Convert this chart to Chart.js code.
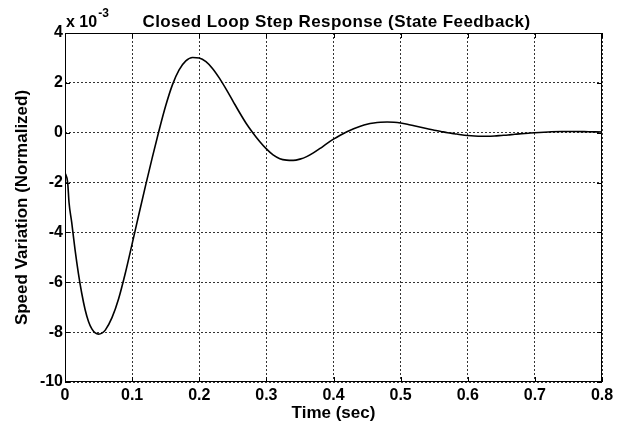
<!DOCTYPE html>
<html>
<head>
<meta charset="utf-8">
<title>Closed Loop Step Response</title>
<script src="https://cdn.jsdelivr.net/npm/chart.js@4.4.0/dist/chart.umd.min.js"></script>
<style>
  html, body { margin: 0; padding: 0; background: #fff; }
  #wrap { width: 624px; height: 428px; }
</style>
</head>
<body>
<div id="wrap"><canvas id="stepChart" width="624" height="428"></canvas></div>
<script>
// values (speed variation in units of 1e-3)
const timeSec = [0, 0.004, 0.006, 0.01, 0.015, 0.02, 0.025, 0.03, 0.035, 0.04, 0.045, 0.05, 0.055, 0.06,
  0.07, 0.08, 0.09, 0.10, 0.11, 0.12, 0.13, 0.14, 0.15, 0.16, 0.17, 0.18, 0.19, 0.20,
  0.21, 0.22, 0.23, 0.24, 0.25, 0.26, 0.27, 0.28, 0.29, 0.30, 0.31, 0.32, 0.33, 0.34,
  0.35, 0.36, 0.37, 0.38, 0.39, 0.40, 0.41, 0.42, 0.43, 0.44, 0.45, 0.46, 0.47, 0.48,
  0.49, 0.50, 0.51, 0.52, 0.53, 0.54, 0.55, 0.56, 0.57, 0.58, 0.59, 0.60, 0.61, 0.62,
  0.63, 0.64, 0.65, 0.66, 0.67, 0.68, 0.69, 0.70, 0.72, 0.74, 0.76, 0.78, 0.80];
const speedVar = [-1.6, -2.0, -2.8, -3.6, -4.7, -5.65, -6.45, -7.1, -7.57, -7.87, -8.03, -8.08, -8.04, -7.92,
  -7.42, -6.65, -5.62, -4.46, -3.28, -2.12, -1.0, 0.08, 1.08, 1.92, 2.52, 2.88, 3.02, 3.0,
  2.85, 2.57, 2.19, 1.75, 1.28, 0.81, 0.37, -0.01, -0.35, -0.65, -0.89, -1.04, -1.10, -1.11,
  -1.06, -0.96, -0.81, -0.63, -0.44, -0.26, -0.10, 0.04, 0.16, 0.26, 0.34, 0.39, 0.42, 0.43,
  0.42, 0.39, 0.34, 0.28, 0.22, 0.16, 0.10, 0.05, 0.0, -0.04, -0.08, -0.11, -0.13, -0.14,
  -0.14, -0.13, -0.11, -0.09, -0.06, -0.04, -0.02, 0.0, 0.03, 0.05, 0.05, 0.04, 0.03];
const xTicks = [0, 0.1, 0.2, 0.3, 0.4, 0.5, 0.6, 0.7, 0.8];
const yTicks = [-10, -8, -6, -4, -2, 0, 2, 4];

const FONT = "'Liberation Sans', Arial, Helvetica, sans-serif";

// frame box, inner tick marks, title and the x 10^-3 multiplier
const matlabFrame = {
  id: 'matlabFrame',
  afterDraw(chart) {
    const { ctx, chartArea: a, scales } = chart;
    ctx.save();
    ctx.strokeStyle = '#000';
    ctx.lineWidth = 1;
    ctx.setLineDash([]);
    ctx.strokeRect(a.left + 0.5, a.top + 0.5, a.right - a.left - 1, a.bottom - a.top - 1);
    ctx.beginPath();
    xTicks.forEach(v => {
      const px = Math.round(scales.x.getPixelForValue(v)) + 0.5;
      ctx.moveTo(px, a.bottom); ctx.lineTo(px, a.bottom - 5);
      ctx.moveTo(px, a.top); ctx.lineTo(px, a.top + 5);
    });
    yTicks.forEach(v => {
      const py = Math.round(scales.y.getPixelForValue(v)) + 0.5;
      ctx.moveTo(a.left, py); ctx.lineTo(a.left + 5, py);
      ctx.moveTo(a.right, py); ctx.lineTo(a.right - 5, py);
    });
    ctx.stroke();

    ctx.fillStyle = '#000';
    ctx.textBaseline = 'alphabetic';
    ctx.textAlign = 'center';
    ctx.font = 'bold 17px ' + FONT;
    ctx.letterSpacing = '0.4px';
    ctx.fillText('Closed Loop Step Response (State Feedback)', (a.left + a.right) / 2 + 3, 27);

    ctx.letterSpacing = '0px';
    ctx.textAlign = 'left';
    ctx.font = 'bold 16px ' + FONT;
    ctx.fillText('x 10', a.left + 1, 27);
    const w = ctx.measureText('x 10').width;
    ctx.font = 'bold 12px ' + FONT;
    ctx.fillText('-3', a.left + 1 + w + 1, 17);
    ctx.restore();
  }
};

new Chart(document.getElementById('stepChart'), {
  type: 'line',
  data: {
    datasets: [{
      data: timeSec.map((t, i) => ({ x: t, y: speedVar[i] })),
      borderColor: '#000',
      borderWidth: 1.6,
      pointRadius: 0,
      cubicInterpolationMode: 'monotone',
      fill: false
    }]
  },
  options: {
    responsive: false,
    animation: false,
    layout: { padding: { top: 33, right: 22, bottom: 0, left: 0 } },
    plugins: {
      legend: { display: false },
      tooltip: { enabled: false }
    },
    scales: {
      x: {
        type: 'linear',
        min: 0,
        max: 0.8,
        afterBuildTicks: s => { s.ticks = xTicks.map(v => ({ value: v })); },
        afterFit: s => { s.height = 46; },
        grid: { color: '#333', lineWidth: 1, drawTicks: false },
        border: { display: false, dash: [2, 2] },
        ticks: {
          color: '#000',
          padding: 4,
          maxRotation: 0,
          font: { family: FONT, size: 16, weight: 'bold' },
          callback: v => String(v)
        },
        title: {
          display: true,
          text: 'Time (sec)',
          color: '#000',
          font: { family: FONT, size: 17, weight: 'bold' },
          padding: { top: 0, bottom: 4 }
        }
      },
      y: {
        min: -10,
        max: 4,
        afterBuildTicks: s => { s.ticks = yTicks.map(v => ({ value: v })); },
        afterFit: s => { s.width = 65; },
        grid: { color: '#333', lineWidth: 1, drawTicks: false },
        border: { display: false, dash: [2, 2] },
        ticks: {
          color: '#000',
          padding: 2,
          font: { family: FONT, size: 16, weight: 'bold' },
          callback: v => String(v)
        },
        title: {
          display: true,
          text: 'Speed Variation (Normalized)',
          color: '#000',
          font: { family: FONT, size: 17, weight: 'bold' },
          padding: { top: 12, bottom: 0 }
        }
      }
    }
  },
  plugins: [matlabFrame]
});
</script>
</body>
</html>
